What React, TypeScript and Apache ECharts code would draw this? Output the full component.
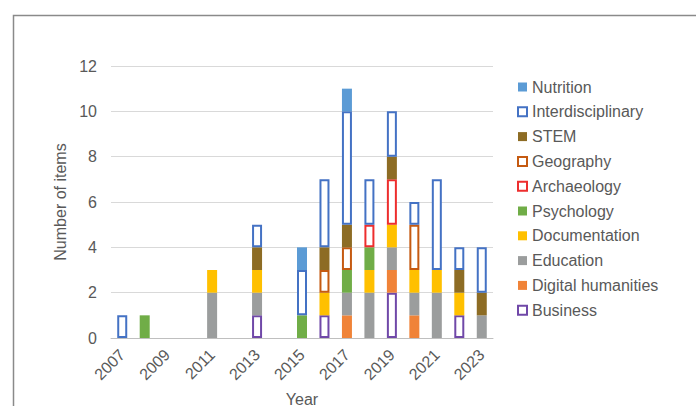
import React, { useEffect, useRef } from "react";
import * as echarts from "echarts";

// Publication year of each item
const years = [
  "2007", "2008", "2009", "2010", "2011", "2012", "2013", "2014", "2015",
  "2016", "2017", "2018", "2019", "2020", "2021", "2022", "2023",
];

// Items per discipline and year (stacked bottom to top in this order)
const business = [0, 0, 0, 0, 0, 0, 1, 0, 0, 1, 0, 0, 2, 0, 0, 1, 0];
const digitalHumanities = [0, 0, 0, 0, 0, 0, 0, 0, 0, 0, 1, 0, 1, 1, 0, 0, 0];
const education = [0, 0, 0, 0, 2, 0, 1, 0, 0, 0, 1, 2, 1, 1, 2, 0, 1];
const documentation = [0, 0, 0, 0, 1, 0, 1, 0, 0, 1, 0, 1, 1, 1, 1, 1, 0];
const psychology = [0, 1, 0, 0, 0, 0, 0, 0, 1, 0, 1, 1, 0, 0, 0, 0, 0];
const archaeology = [0, 0, 0, 0, 0, 0, 0, 0, 0, 0, 0, 1, 2, 0, 0, 0, 0];
const geography = [0, 0, 0, 0, 0, 0, 0, 0, 0, 1, 1, 0, 0, 2, 0, 0, 0];
const stem = [0, 0, 0, 0, 0, 0, 1, 0, 0, 1, 1, 0, 1, 0, 0, 1, 1];
const interdisciplinary = [1, 0, 0, 0, 0, 0, 1, 0, 2, 3, 5, 2, 2, 1, 4, 1, 2];
const nutrition = [0, 0, 0, 0, 0, 0, 0, 0, 1, 0, 1, 0, 0, 0, 0, 0, 0];

const yTicks = { min: 0, max: 12, interval: 2 };

type SeriesDef = {
  name: string;
  values: number[];
  color: string;
  outline?: boolean;
};

const seriesDefs: SeriesDef[] = [
  { name: "Business", values: business, color: "#7048A8", outline: true },
  { name: "Digital humanities", values: digitalHumanities, color: "#F08338" },
  { name: "Education", values: education, color: "#9B9D9D" },
  { name: "Documentation", values: documentation, color: "#FFC000" },
  { name: "Psychology", values: psychology, color: "#70AD47" },
  { name: "Archaeology", values: archaeology, color: "#ED2E2E", outline: true },
  { name: "Geography", values: geography, color: "#C55A11", outline: true },
  { name: "STEM", values: stem, color: "#8D6C24" },
  { name: "Interdisciplinary", values: interdisciplinary, color: "#4472C4", outline: true },
  { name: "Nutrition", values: nutrition, color: "#5B9BD5" },
];

const TEXT = "#595959";
const FONT = "Liberation Sans, Arial, sans-serif";

function styleFor(d: SeriesDef) {
  return d.outline
    ? { color: "#FFFFFF", borderColor: d.color, borderWidth: 2 }
    : { color: d.color, borderWidth: 0 };
}

export default function App() {
  const ref = useRef<HTMLDivElement>(null);

  useEffect(() => {
    if (!ref.current) return;
    const chart = echarts.init(ref.current, null, { renderer: "svg" });

    chart.setOption({
      animation: false,
      backgroundColor: "#FFFFFF",
      textStyle: { fontFamily: FONT },
      graphic: [
        {
          type: "rect",
          left: 11,
          top: 13,
          shape: { width: 720, height: 420 },
          style: { fill: "none", stroke: "#8A8A8A", lineWidth: 1.5 },
          silent: true,
        },
      ],
      grid: {
        left: 111,
        right: 203,
        top: 66,
        bottom: 68,
        containLabel: false,
        outerBoundsMode: "none",
      },
      legend: {
        orient: "vertical",
        left: 512,
        top: 72,
        itemWidth: 9,
        itemHeight: 9,
        itemGap: 4.8,
        textStyle: { color: TEXT, fontSize: 16, lineHeight: 20, fontFamily: FONT },
        data: [...seriesDefs].reverse().map((d) => ({
          name: d.name,
          icon: "rect",
          itemStyle: styleFor(d),
        })),
      },
      xAxis: {
        type: "category",
        data: years,
        name: "Year",
        nameLocation: "middle",
        nameGap: 53,
        nameTextStyle: { color: TEXT, fontSize: 16, fontFamily: FONT },
        axisLine: { lineStyle: { color: "#BFBFBF", width: 1 } },
        axisTick: { show: false },
        axisLabel: {
          interval: 1,
          rotate: 45,
          margin: 14,
          color: TEXT,
          fontSize: 16,
          fontFamily: FONT,
        },
      },
      yAxis: {
        type: "value",
        min: yTicks.min,
        max: yTicks.max,
        interval: yTicks.interval,
        name: "Number of items",
        nameLocation: "middle",
        nameGap: 38,
        nameTextStyle: { color: TEXT, fontSize: 16, fontFamily: FONT },
        axisLine: { show: false },
        axisTick: { show: false },
        axisLabel: { color: TEXT, fontSize: 16, margin: 14, fontFamily: FONT },
        splitLine: { lineStyle: { color: "#D9D9D9", width: 1 } },
      },
      series: seriesDefs.map((d) => ({
        name: d.name,
        type: "bar",
        stack: "total",
        barWidth: 10,
        data: d.values.map((v) => (v === 0 ? "-" : v)),
        itemStyle: styleFor(d),
      })),
    });

    return () => chart.dispose();
  }, []);

  return (
    <div
      ref={ref}
      style={{ position: "fixed", left: 0, top: 0, width: 696, height: 406, background: "#fff" }}
    />
  );
}
